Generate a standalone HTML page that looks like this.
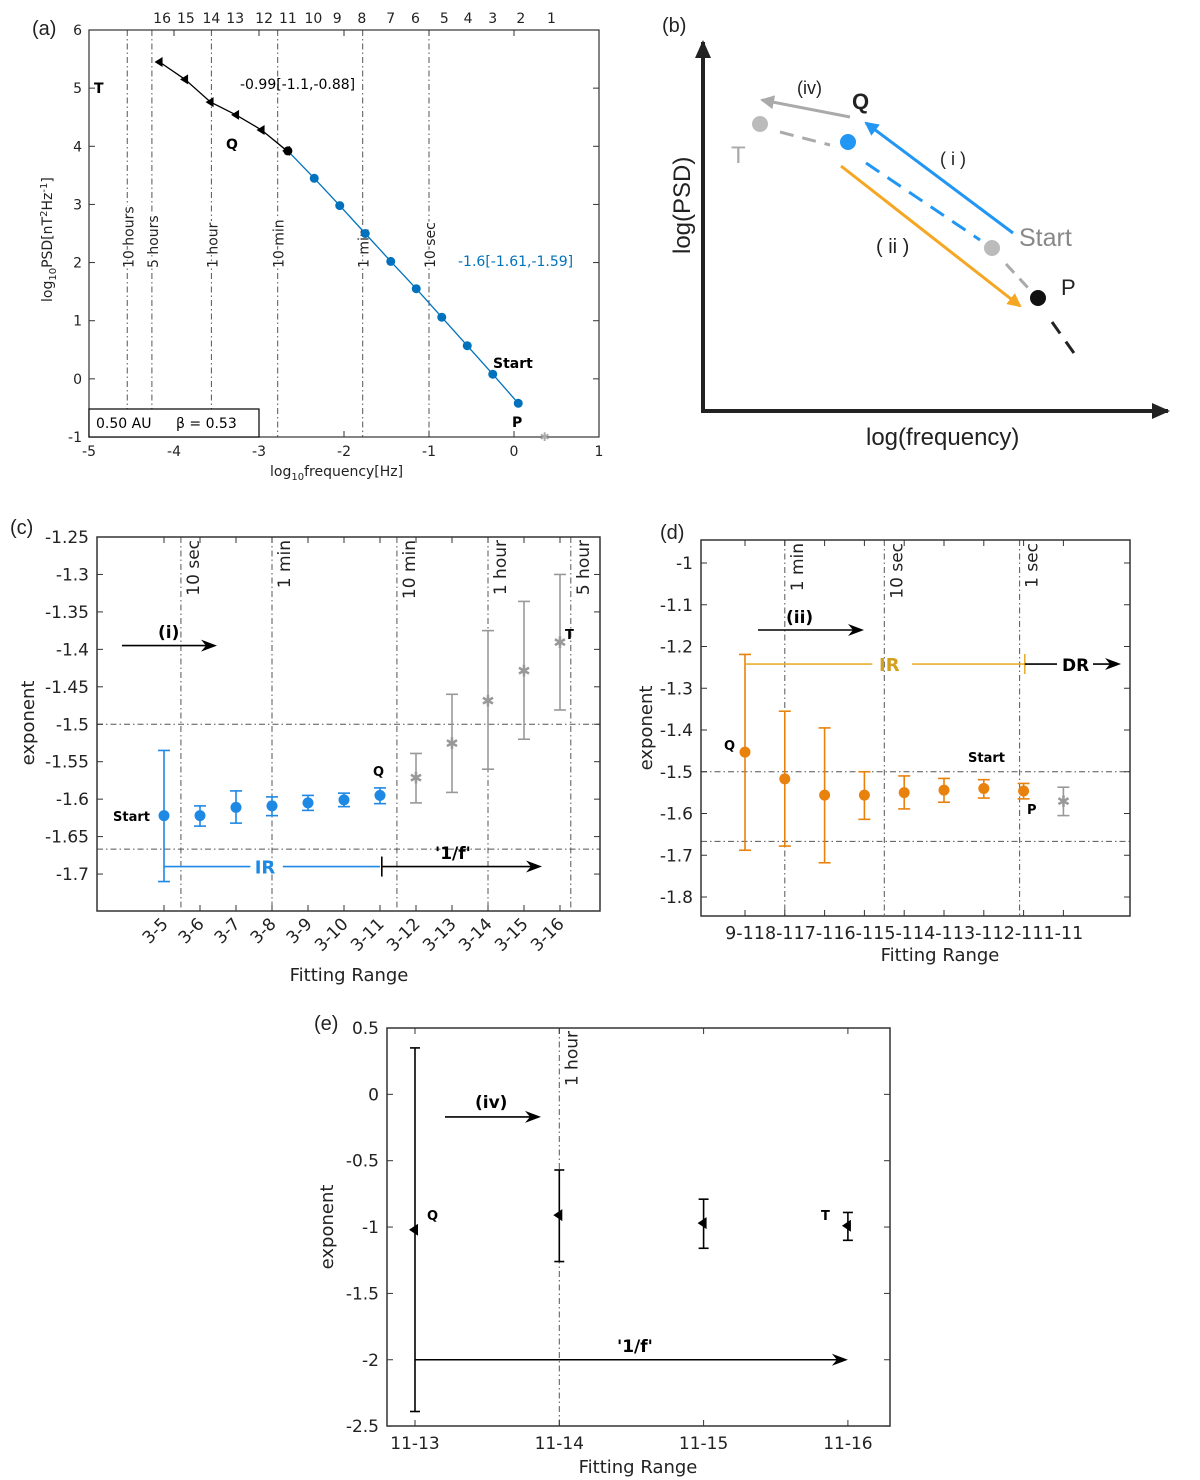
<!DOCTYPE html>
<html><head><meta charset="utf-8"><style>
html,body{margin:0;padding:0;background:#fff}
svg{display:block;font-family:"DejaVu Sans","Liberation Sans",sans-serif}
#gb{font-family:"Liberation Sans","DejaVu Sans",sans-serif}
</style></head><body>
<svg id="fig" width="1200" height="1480" viewBox="0 0 1200 1480" xmlns="http://www.w3.org/2000/svg">
<g id="ga"></g>
<g id="gb"></g>
<g id="gc"></g>
<g id="gd"></g>
<g id="ge"></g>
</svg>
<script>
// ---------- Panel (a) data ----------
const aBlueX = [-2.66,-2.35,-2.05,-1.75,-1.45,-1.15,-0.85,-0.55,-0.25,0.05];
const aBlueY = [3.92,3.45,2.98,2.50,2.02,1.55,1.06,0.57,0.08,-0.42];
const aTriX = [-4.17,-3.87,-3.57,-3.27,-2.97,-2.67];
const aTriY = [5.45,5.15,4.76,4.54,4.28,3.92];
const aStarX = [0.36];
const aStarY = [-1.0];
const aVLineX = [-4.55,-4.26,-3.56,-2.78,-1.78,-1.0];
const aVLineLabels = ["10 hours","5 hours","1 hour","10 min","1 min","10 sec"];
const aTopNumX = [-4.14,-3.86,-3.56,-3.28,-2.94,-2.66,-2.36,-2.08,-1.79,-1.45,-1.16,-0.82,-0.54,-0.25,0.08,0.44];
const aTopNum = ["16","15","14","13","12","11","10","9","8","7","6","5","4","3","2","1"];
const aXTicks = [-5,-4,-3,-2,-1,0,1];
const aYTicks = [6,5,4,3,2,1,0,-1];
// ---------- Panel (c) data ----------
const cCats = ["3-5","3-6","3-7","3-8","3-9","3-10","3-11","3-12","3-13","3-14","3-15","3-16"];
const cVal = [-1.622,-1.622,-1.611,-1.609,-1.605,-1.601,-1.595,-1.571,-1.525,-1.468,-1.428,-1.390];
const cLo = [-1.710,-1.636,-1.632,-1.622,-1.615,-1.610,-1.606,-1.605,-1.591,-1.560,-1.520,-1.481];
const cHi = [-1.535,-1.609,-1.589,-1.597,-1.595,-1.592,-1.585,-1.539,-1.460,-1.375,-1.336,-1.300];
const cBlueCount = 7;
const cVLinePos = [0.47,3,6.47,9,11.3];
const cVLineLabels = ["10 sec","1 min","10 min","1 hour","5 hour"];
const cYTicks = [-1.25,-1.3,-1.35,-1.4,-1.45,-1.5,-1.55,-1.6,-1.65,-1.7];
const cYTickLabels = ["-1.25","-1.3","-1.35","-1.4","-1.45","-1.5","-1.55","-1.6","-1.65","-1.7"];
const cHLines = [-1.5,-1.6667];
// ---------- Panel (d) data ----------
const dCats = ["9-11","8-11","7-11","6-11","5-11","4-11","3-11","2-11","1-11"];
const dVal = [-1.453,-1.517,-1.556,-1.556,-1.550,-1.544,-1.540,-1.546,-1.570];
const dLo = [-1.688,-1.678,-1.718,-1.614,-1.589,-1.573,-1.563,-1.565,-1.605];
const dHi = [-1.219,-1.355,-1.395,-1.500,-1.510,-1.516,-1.519,-1.528,-1.537];
const dOrangeCount = 8;
const dVLinePos = [1,3.5,6.9];
const dVLineLabels = ["1 min","10 sec","1 sec"];
const dYTicks = [-1,-1.1,-1.2,-1.3,-1.4,-1.5,-1.6,-1.7,-1.8];
const dYTickLabels = ["-1","-1.1","-1.2","-1.3","-1.4","-1.5","-1.6","-1.7","-1.8"];
const dHLines = [-1.5,-1.6667];
// ---------- Panel (e) data ----------
const eCats = ["11-13","11-14","11-15","11-16"];
const eVal = [-1.02,-0.91,-0.97,-0.99];
const eLo = [-2.39,-1.26,-1.16,-1.10];
const eHi = [0.35,-0.57,-0.79,-0.89];
const eVLinePos = [1];
const eVLineLabels = ["1 hour"];
const eYTicks = [0.5,0,-0.5,-1,-1.5,-2,-2.5];
const eYTickLabels = ["0.5","0","-0.5","-1","-1.5","-2","-2.5"];

const NS = "http://www.w3.org/2000/svg";
function mk(parent, tag, attrs, txt){
  const el = document.createElementNS(NS, tag);
  for (const k in attrs) el.setAttribute(k, attrs[k]);
  if (txt !== undefined) el.textContent = txt;
  parent.appendChild(el);
  return el;
}
const DASHDOT = "6,3,1.5,3";
const TXT = "#222";

// ================= PANEL A =================
(function(){
  const g = document.getElementById('ga');
  const L=89,R=599,T=30,B=437;
  const ax = v => L + (v+5)*(R-L)/6;
  const ay = v => T + (6-v)*(B-T)/7;
  let el;
  el = mk(g,'text',{x:32,y:35,'font-size':20,fill:TXT,'font-family':'Liberation Sans'},'(a)');
   
  aVLineX.forEach((v,i)=>{
    el = mk(g,'line',{x1:ax(v),x2:ax(v),y1:T,y2:B,stroke:'#555','stroke-width':1,'stroke-dasharray':DASHDOT});
     
    el = mk(g,'text',{transform:`translate(${ax(v)+6},268) rotate(-90)`,'font-size':14,fill:TXT,'text-anchor':'start',stroke:'#fff','stroke-width':3,'paint-order':'stroke'},aVLineLabels[i]);
     
  });
  el = mk(g,'rect',{x:L,y:T,width:R-L,height:B-T,fill:'none',stroke:'#333','stroke-width':1.2});
   
  aXTicks.forEach(v=>{
    el = mk(g,'line',{x1:ax(v),x2:ax(v),y1:B,y2:B-6,stroke:'#333'});
     
    el = mk(g,'line',{x1:ax(v),x2:ax(v),y1:T,y2:T+6,stroke:'#333'});
     
    el = mk(g,'text',{x:ax(v),y:B+19,'font-size':14,fill:TXT,'text-anchor':'middle'},String(v));
     
  });
  aYTicks.forEach(v=>{
    el = mk(g,'line',{x1:L,x2:L+6,y1:ay(v),y2:ay(v),stroke:'#333'});
     
    el = mk(g,'line',{x1:R,x2:R-6,y1:ay(v),y2:ay(v),stroke:'#333'});
     
    el = mk(g,'text',{x:L-7,y:ay(v)+5,'font-size':14,fill:TXT,'text-anchor':'end'},String(v));
     
  });
  aTopNum.forEach((s,i)=>{
    el = mk(g,'text',{x:ax(aTopNumX[i]),y:23,'font-size':14,fill:TXT,'text-anchor':'middle'},s);
     
  });
  el = mk(g,'polyline',{points:aTriX.map((x,i)=>ax(x)+','+ay(aTriY[i])).join(' '),fill:'none',stroke:'#000','stroke-width':1.3});
   
  aTriX.forEach((x,i)=>{
    const cx=ax(x),cy=ay(aTriY[i]);
    el = mk(g,'polygon',{points:`${cx-5},${cy} ${cx+3},${cy-5} ${cx+3},${cy+5}`,fill:'#000'});
     
  });
  el = mk(g,'polyline',{points:aBlueX.map((x,i)=>ax(x)+','+ay(aBlueY[i])).join(' '),fill:'none',stroke:'#0072BD','stroke-width':1.3});
   
  aBlueX.forEach((x,i)=>{
    el = mk(g,'circle',{cx:ax(x),cy:ay(aBlueY[i]),r:4.5,fill:i===0?'#000':'#0072BD'});
     
  });
  aStarX.forEach((x,i)=>{
    el = mk(g,'text',{x:ax(x),y:ay(aStarY[i])+4,'font-size':12,fill:'#aaa','text-anchor':'middle'},'✱');
     
  });
  el = mk(g,'text',{x:240,y:89,'font-size':14,fill:'#000'},'-0.99[-1.1,-0.88]');
   
  el = mk(g,'text',{x:458,y:266,'font-size':14,fill:'#0072BD'},'-1.6[-1.61,-1.59]');
   
  [['T',94,93],['Q',226,149],['Start',493,368],['P',512,427]].forEach(a=>{
    el = mk(g,'text',{x:a[1],y:a[2],'font-size':14,'font-weight':'bold',fill:'#000'},a[0]);
     
  });
  el = mk(g,'rect',{x:L,y:409,width:170,height:28,fill:'#fff',stroke:'#000','stroke-width':1.2});
   
  el = mk(g,'text',{x:96,y:428,'font-size':14,fill:'#000'},'0.50 AU');
   
  el = mk(g,'text',{x:176,y:428,'font-size':14,fill:'#000'},'β = 0.53');
   
  el = mk(g,'text',{x:270,y:476,'font-size':14,fill:TXT},'');
  el.innerHTML='log<tspan dy="4" font-size="10">10</tspan><tspan dy="-4">frequency[Hz]</tspan>';
   
  el = mk(g,'text',{transform:'translate(52,302) rotate(-90)','font-size':14,fill:TXT},'');
  el.innerHTML='log<tspan dy="4" font-size="10">10</tspan><tspan dy="-4">PSD[nT</tspan><tspan dy="-5" font-size="10">2</tspan><tspan dy="5">Hz</tspan><tspan dy="-5" font-size="10">-1</tspan><tspan dy="5">]</tspan>';
   
})();

// ================= PANEL B (schematic) =================
(function(){
  const g = document.getElementById('gb');
  let el;
  el = mk(g,'defs',{});
  el.innerHTML='<marker id="ahB" markerWidth="14" markerHeight="14" refX="12" refY="7" orient="auto" markerUnits="userSpaceOnUse"><path d="M0,0 L14,7 L0,14 z" fill="#2196F3"/></marker>'+
  '<marker id="ahO" markerWidth="14" markerHeight="14" refX="12" refY="7" orient="auto" markerUnits="userSpaceOnUse"><path d="M0,0 L14,7 L0,14 z" fill="#F5A623"/></marker>'+
  '<marker id="ahG" markerWidth="14" markerHeight="14" refX="12" refY="7" orient="auto" markerUnits="userSpaceOnUse"><path d="M0,0 L14,7 L0,14 z" fill="#aaa"/></marker>'+
  '<marker id="ahA" markerWidth="18" markerHeight="16" refX="16" refY="8" orient="auto" markerUnits="userSpaceOnUse"><path d="M0,0 L18,8 L0,16 z" fill="#222"/></marker>';
  el = mk(g,'text',{x:662,y:32,'font-size':20,fill:TXT},'(b)');
   
  el = mk(g,'line',{x1:703,y1:411,x2:703,y2:42,stroke:'#222','stroke-width':4,'marker-end':'url(#ahA)'});
   
  el = mk(g,'line',{x1:701,y1:411,x2:1168,y2:411,stroke:'#222','stroke-width':4,'marker-end':'url(#ahA)'});
   
  el = mk(g,'line',{x1:780,y1:132,x2:830,y2:145,stroke:'#aaa','stroke-width':3,'stroke-dasharray':'14,9'});
   
  el = mk(g,'line',{x1:866,y1:163,x2:980,y2:240,stroke:'#2196F3','stroke-width':3,'stroke-dasharray':'16,10'});
   
  el = mk(g,'line',{x1:1006,y1:264,x2:1030,y2:290,stroke:'#aaa','stroke-width':3,'stroke-dasharray':'12,8'});
   
  el = mk(g,'line',{x1:1052,y1:322,x2:1076,y2:356,stroke:'#222','stroke-width':3,'stroke-dasharray':'14,10'});
   
  el = mk(g,'line',{x1:850,y1:117,x2:762,y2:100,stroke:'#aaa','stroke-width':3,'marker-end':'url(#ahG)'});
   
  el = mk(g,'line',{x1:1013,y1:233,x2:866,y2:123,stroke:'#2196F3','stroke-width':3,'marker-end':'url(#ahB)'});
   
  el = mk(g,'line',{x1:841,y1:166,x2:1020,y2:306,stroke:'#F5A623','stroke-width':3,'marker-end':'url(#ahO)'});
   
  [[760,124,'#bbb','point-t'],[848,142,'#2196F3','point-q'],[992,248,'#bbb','point-start'],[1038,298,'#111','point-p']].forEach(p=>{
    el = mk(g,'circle',{cx:p[0],cy:p[1],r:8,fill:p[2]});
     
  });
  [['(iv)',797,94,18,'#222','normal'],['Q',852,109,22,'#222','bold'],['T',731,163,24,'#aaa','normal'],['( i )',940,165,18,'#222','normal'],['Start',1019,246,25,'#888','normal'],['( ii )',876,253,20,'#222','normal'],['P',1061,295,22,'#222','normal']].forEach(t=>{
    el = mk(g,'text',{x:t[1],y:t[2],'font-size':t[3],fill:t[4],'font-weight':t[5]},t[0]);
     
  });
  el = mk(g,'text',{transform:'translate(690,254) rotate(-90)','font-size':24,fill:'#222'},'log(PSD)');
   
  el = mk(g,'text',{x:866,y:445,'font-size':24,fill:'#222'},'log(frequency)');
   
})();

function errPanel(g, o){
  let el;
  const sx = i => o.x0 + o.dx*i;
  const sy = v => o.y0 + (o.v0 - v)*o.ppu;
  el = mk(g,'text',{x:o.lab[1],y:o.lab[2],'font-size':20,fill:TXT,'font-family':'Liberation Sans'},o.lab[0]);
   
  o.hl.forEach(v=>{
    el = mk(g,'line',{x1:o.L,x2:o.R,y1:sy(v),y2:sy(v),stroke:'#555','stroke-dasharray':DASHDOT});
     
  });
  o.vl.forEach((p,i)=>{
    el = mk(g,'line',{x1:sx(p),x2:sx(p),y1:o.T,y2:o.B,stroke:'#555','stroke-dasharray':DASHDOT});
     
    el = mk(g,'text',{transform:`translate(${sx(p)+18},${o.T+3}) rotate(-90)`,'font-size':17,fill:TXT,'text-anchor':'end'},o.vll[i]);
     
  });
  el = mk(g,'rect',{x:o.L,y:o.T,width:o.R-o.L,height:o.B-o.T,fill:'none',stroke:'#333','stroke-width':1.5});
   
  o.yt.forEach((v,i)=>{
    el = mk(g,'line',{x1:o.L,x2:o.L+6,y1:sy(v),y2:sy(v),stroke:'#333'});
     
    el = mk(g,'line',{x1:o.R,x2:o.R-6,y1:sy(v),y2:sy(v),stroke:'#333'});
     
    el = mk(g,'text',{x:o.L-8,y:sy(v)+6,'font-size':17,fill:TXT,'text-anchor':'end'},o.ytl[i]);
     
  });
  o.cats.forEach((c,i)=>{
    el = mk(g,'line',{x1:sx(i),x2:sx(i),y1:o.B,y2:o.B-6,stroke:'#333'});
     
    el = mk(g,'line',{x1:sx(i),x2:sx(i),y1:o.T,y2:o.T+6,stroke:'#333'});
     
    if(o.rot){
      el = mk(g,'text',{transform:`translate(${sx(i)+5},${o.B+14}) rotate(-45)`,'font-size':17,fill:TXT,'text-anchor':'end'},c);
    } else {
      el = mk(g,'text',{x:sx(i),y:o.B+23,'font-size':o.xfs||17,fill:TXT,'text-anchor':'middle'},c);
    }
     
  });
  o.val.forEach((v,i)=>{
    const col = o.col(i);
    el = mk(g,'line',{x1:sx(i),x2:sx(i),y1:sy(o.lo[i]),y2:sy(o.hi[i]),stroke:col,'stroke-width':1.6});
     
    [o.lo[i],o.hi[i]].forEach(w=>{
      el = mk(g,'line',{x1:sx(i)-o.cap,x2:sx(i)+o.cap,y1:sy(w),y2:sy(w),stroke:col,'stroke-width':1.6});
       
    });
    const m = o.mark(i);
    if(m==='circle'){
      el = mk(g,'circle',{cx:sx(i),cy:sy(v),r:5.5,fill:col});
    } else if(m==='star'){
      el = mk(g,'text',{x:sx(i),y:sy(v)+6,'font-size':16,fill:col,'text-anchor':'middle'},'✱');
    } else {
      const cx=sx(i),cy=sy(v);
      el = mk(g,'polygon',{points:`${cx-6},${cy} ${cx+3},${cy-6} ${cx+3},${cy+6}`,fill:col});
    }
     
  });
  el = mk(g,'text',{x:o.xt[0],y:o.xt[1],'font-size':18,fill:TXT,'text-anchor':'middle'},'Fitting Range');
   
  el = mk(g,'text',{transform:`translate(${o.ytp[0]},${o.ytp[1]}) rotate(-90)`,'font-size':18,fill:TXT,'text-anchor':'middle'},'exponent');
   
  return {sx,sy};
}
function arrow(g,x1,y1,x2,y2,name,col){
  col = col||'#000';
  let el = mk(g,'line',{x1:x1,y1:y1,x2:x2-8,y2:y2,stroke:col,'stroke-width':1.6});
   
  el = mk(g,'path',{d:`M${x2},${y2} L${x2-16},${y2-6} L${x2-11},${y2} L${x2-16},${y2+6} z`,fill:col});
   
}

// ================= PANEL C =================
(function(){
  const g = document.getElementById('gc');
  const s = errPanel(g,{L:97,R:600,T:537,B:911,x0:164,dx:36,y0:537,v0:-1.25,ppu:749,
    lab:['(c)',10,534],hl:cHLines,vl:cVLinePos,vll:cVLineLabels,yt:cYTicks,ytl:cYTickLabels,cats:cCats,rot:true,
    val:cVal,lo:cLo,hi:cHi,cap:6,col:i=>i<cBlueCount?'#1E88E5':'#999',mark:i=>i<cBlueCount?'circle':'star',
    xt:[349,981],ytp:[34,723]});
  let el;
  const yIR = s.sy(-1.69);
  el = mk(g,'line',{x1:s.sx(0),x2:s.sx(2.4),y1:yIR,y2:yIR,stroke:'#1E88E5','stroke-width':1.6});
   
  el = mk(g,'line',{x1:s.sx(3.3),x2:s.sx(6),y1:yIR,y2:yIR,stroke:'#1E88E5','stroke-width':1.6});
   
  el = mk(g,'text',{x:s.sx(2.52),y:yIR+7,'font-size':18,'font-weight':'bold',fill:'#1E88E5'},'IR');
   
  el = mk(g,'line',{x1:s.sx(6.05),x2:s.sx(6.05),y1:yIR-10,y2:yIR+10,stroke:'#000','stroke-width':1.6});
   
  arrow(g,s.sx(6.05),yIR,s.sx(10.5),yIR,'one-over-f-arrow');
  el = mk(g,'text',{x:435,y:859,'font-size':17,'font-weight':'bold',fill:'#000'},"'1/f'");
   
  arrow(g,122,s.sy(-1.395),217,s.sy(-1.395),'arrow-i');
  el = mk(g,'text',{x:158,y:638,'font-size':17,'font-weight':'bold',fill:'#000'},'(i)');
   
  [['Start',113,821],['Q',373,776],['T',565,639]].forEach(a=>{
    el = mk(g,'text',{x:a[1],y:a[2],'font-size':13,'font-weight':'bold',fill:'#000'},a[0]);
     
  });
})();

// ================= PANEL D =================
(function(){
  const g = document.getElementById('gd');
  const s = errPanel(g,{L:701,R:1130,T:540,B:916,x0:745,dx:39.8,y0:563,v0:-1,ppu:417.5,
    lab:['(d)',660,539],hl:dHLines,vl:dVLinePos,vll:dVLineLabels,yt:dYTicks,ytl:dYTickLabels,cats:dCats,rot:false,xfs:17.5,
    val:dVal,lo:dLo,hi:dHi,cap:6,col:i=>i<dOrangeCount?'#E8820C':'#999',mark:i=>i<dOrangeCount?'circle':'star',
    xt:[940,961],ytp:[652,728]});
  let el;
  const yIR = s.sy(-1.242);
  el = mk(g,'line',{x1:s.sx(0),x2:s.sx(3.2),y1:yIR,y2:yIR,stroke:'#E8B030','stroke-width':1.6});
   
  el = mk(g,'line',{x1:s.sx(4.2),x2:s.sx(7.03),y1:yIR,y2:yIR,stroke:'#E8B030','stroke-width':1.6});
   
  el = mk(g,'line',{x1:s.sx(7.03),x2:s.sx(7.03),y1:yIR-10,y2:yIR+10,stroke:'#E8B030','stroke-width':1.6});
   
  el = mk(g,'text',{x:879,y:yIR+7,'font-size':18,'font-weight':'bold',fill:'#D4A020'},'IR');
   
  el = mk(g,'line',{x1:s.sx(7.03),x2:1057,y1:yIR,y2:yIR,stroke:'#000','stroke-width':1.6});
   
  el = mk(g,'text',{x:1062,y:yIR+7,'font-size':17,'font-weight':'bold',fill:'#000'},'DR');
   
  arrow(g,1093,yIR,1121,yIR,'dr-arrow');
  arrow(g,758,630,864,630,'arrow-ii');
  el = mk(g,'text',{x:786,y:623,'font-size':17,'font-weight':'bold',fill:'#000'},'(ii)');
   
  [['Q',724,750],['Start',968,762],['P',1027,814]].forEach(a=>{
    el = mk(g,'text',{x:a[1],y:a[2],'font-size':13,'font-weight':'bold',fill:'#000'},a[0]);
     
  });
})();

// ================= PANEL E =================
(function(){
  const g = document.getElementById('ge');
  const s = errPanel(g,{L:387,R:890,T:1028,B:1426,x0:415,dx:144.3,y0:1028,v0:0.5,ppu:132.7,
    lab:['(e)',314,1030],hl:[],vl:eVLinePos,vll:eVLineLabels,yt:eYTicks,ytl:eYTickLabels,cats:eCats,rot:false,
    val:eVal,lo:eLo,hi:eHi,cap:5,col:i=>'#000',mark:i=>'tri',
    xt:[638,1473],ytp:[333,1227]});
  let el;
  arrow(g,s.sx(0),s.sy(-2),s.sx(3),s.sy(-2),'one-over-f-arrow');
  el = mk(g,'text',{x:617,y:1352,'font-size':17,'font-weight':'bold',fill:'#000'},"'1/f'");
   
  arrow(g,445,s.sy(-0.17),541,s.sy(-0.17),'arrow-iv');
  el = mk(g,'text',{x:475,y:1108,'font-size':17,'font-weight':'bold',fill:'#000'},'(iv)');
   
  [['Q',427,1220],['T',821,1220]].forEach(a=>{
    el = mk(g,'text',{x:a[1],y:a[2],'font-size':13,'font-weight':'bold',fill:'#000'},a[0]);
     
  });
})();
</script>
</body></html>
